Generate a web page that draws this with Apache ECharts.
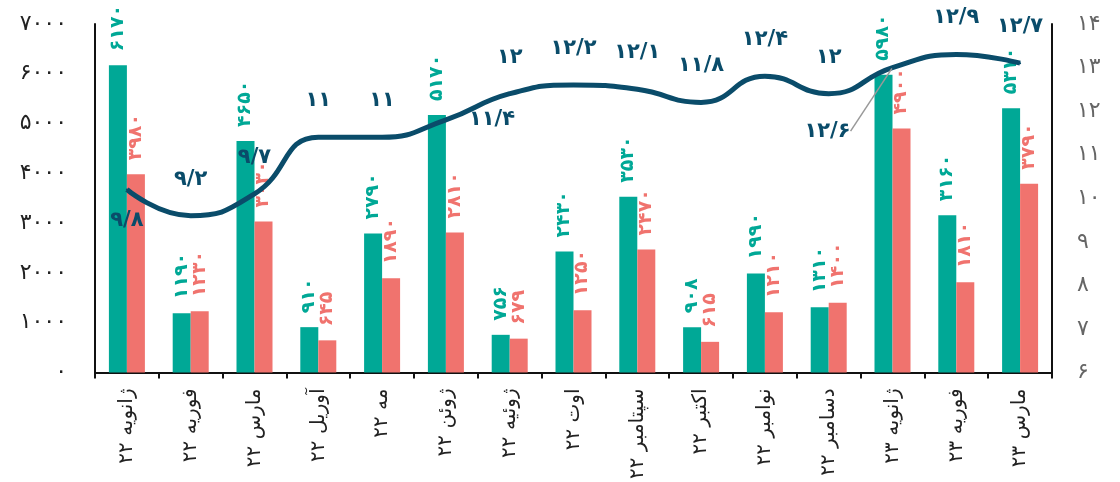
<!DOCTYPE html>
<html>
<head>
<meta charset="utf-8">
<script src="https://cdn.jsdelivr.net/npm/echarts@6/dist/echarts.min.js"></script>
<style>
  html, body { margin: 0; padding: 0; background: #fff; }
  #chart { width: 1120px; height: 482px; }
</style>
</head>
<body>
<div id="chart"></div>
<script>
// داده‌ها
const months = ['ژانویه ۲۲', 'فوریه ۲۲', 'مارس ۲۲', 'آوریل ۲۲', 'مه ۲۲', 'ژوئن ۲۲', 'ژوئیه ۲۲', 'اوت ۲۲',
  'سپتامبر ۲۲', 'اکتبر ۲۲', 'نوامبر ۲۲', 'دسامبر ۲۲', 'ژانویه ۲۳', 'فوریه ۲۳', 'مارس ۲۳']
const tealValues = [6170, 1190, 4650, 910, 2790, 5170, 756, 2430, 3530, 908, 1990, 1310, 5980, 3160, 5310]
const salmonValues = [3980, 1230, 3030, 645, 1890, 2810, 679, 1250, 2470, 615, 1210, 1400, 4900, 1810, 3790]
const lineValues = [9.8, 9.2, 9.7, 11, 11, 11.4, 12, 12.2, 12.1, 11.8, 12.4, 12, 12.6, 12.9, 12.7]

const TEAL = '#00a896'
const SALMON = '#f0736e'
const NAVY = '#0a4c6a'
const FONT = 'DejaVu Sans'

// تبدیل به ارقام فارسی
const fa = v => String(v).replace(/\d/g, d => '۰۱۲۳۴۵۶۷۸۹'[d]).replace('.', '/')

const barLabel = color => ({
  show: true,
  position: 'top',
  rotate: 90,
  align: 'left',
  verticalAlign: 'middle',
  distance: 14,
  color: color,
  fontFamily: FONT,
  fontSize: 19,
  fontWeight: 'bold',
  formatter: p => fa(p.value)
})

const lineData = lineValues.map((v, i) => {
  const item = { value: v }
  if (i === 0) item.label = { position: 'bottom', distance: 20 }
  if (i === 5) item.label = { position: 'right', distance: 22 }
  if (i === 12) item.labelLine = { show: true }
  return item
})

const chart = echarts.init(document.getElementById('chart'))
chart.setOption({
  animation: false,
  textStyle: { fontFamily: FONT },
  grid: { left: 95, right: 68, top: 24, bottom: 108 },
  xAxis: {
    type: 'category',
    data: months,
    axisLine: { lineStyle: { color: '#111', width: 2 } },
    axisTick: { show: true, length: 6, lineStyle: { color: '#111', width: 2 } },
    axisLabel: { rotate: 90, margin: 16, fontSize: 20, color: '#222', fontFamily: FONT }
  },
  yAxis: [{
    type: 'value',
    min: 0,
    max: 7000,
    interval: 1000,
    splitLine: { show: false },
    axisLine: { show: true, lineStyle: { color: '#111', width: 2 } },
    axisTick: { show: false },
    axisLabel: { margin: 28, fontSize: 22, color: '#222', formatter: v => fa(v) }
  }, {
    type: 'value',
    position: 'right',
    min: 6,
    max: 14,
    interval: 1,
    splitLine: { show: false },
    axisLine: { show: true, lineStyle: { color: '#111', width: 2 } },
    axisTick: { show: false },
    axisLabel: { margin: 25, fontSize: 22, color: '#666', formatter: v => fa(v) }
  }, {
    // محور پنهان برای خط
    type: 'value',
    position: 'right',
    min: 5.6,
    max: 13.6,
    show: false,
    splitLine: { show: false }
  }],
  series: [{
    type: 'bar',
    data: tealValues,
    barWidth: 18,
    barGap: '0%',
    itemStyle: { color: TEAL },
    label: barLabel(TEAL)
  }, {
    type: 'bar',
    data: salmonValues,
    barWidth: 18,
    itemStyle: { color: SALMON },
    label: barLabel(SALMON)
  }, {
    type: 'line',
    yAxisIndex: 2,
    data: lineData,
    smooth: 0.5,
    symbol: 'circle',
    symbolSize: 2,
    showSymbol: true,
    itemStyle: { color: NAVY },
    z: 5,
    lineStyle: { color: NAVY, width: 5 },
    label: {
      show: true,
      position: 'top',
      distance: 25,
      color: NAVY,
      fontFamily: FONT,
      fontSize: 21,
      fontWeight: 'bold',
      formatter: p => fa(p.value)
    },
    labelLine: { show: false, lineStyle: { color: '#999', width: 1.5 } },
    labelLayout: p => p.dataIndex === 12 ? { dx: -65, dy: 100 } : {}
  }]
})
</script>
</body>
</html>
